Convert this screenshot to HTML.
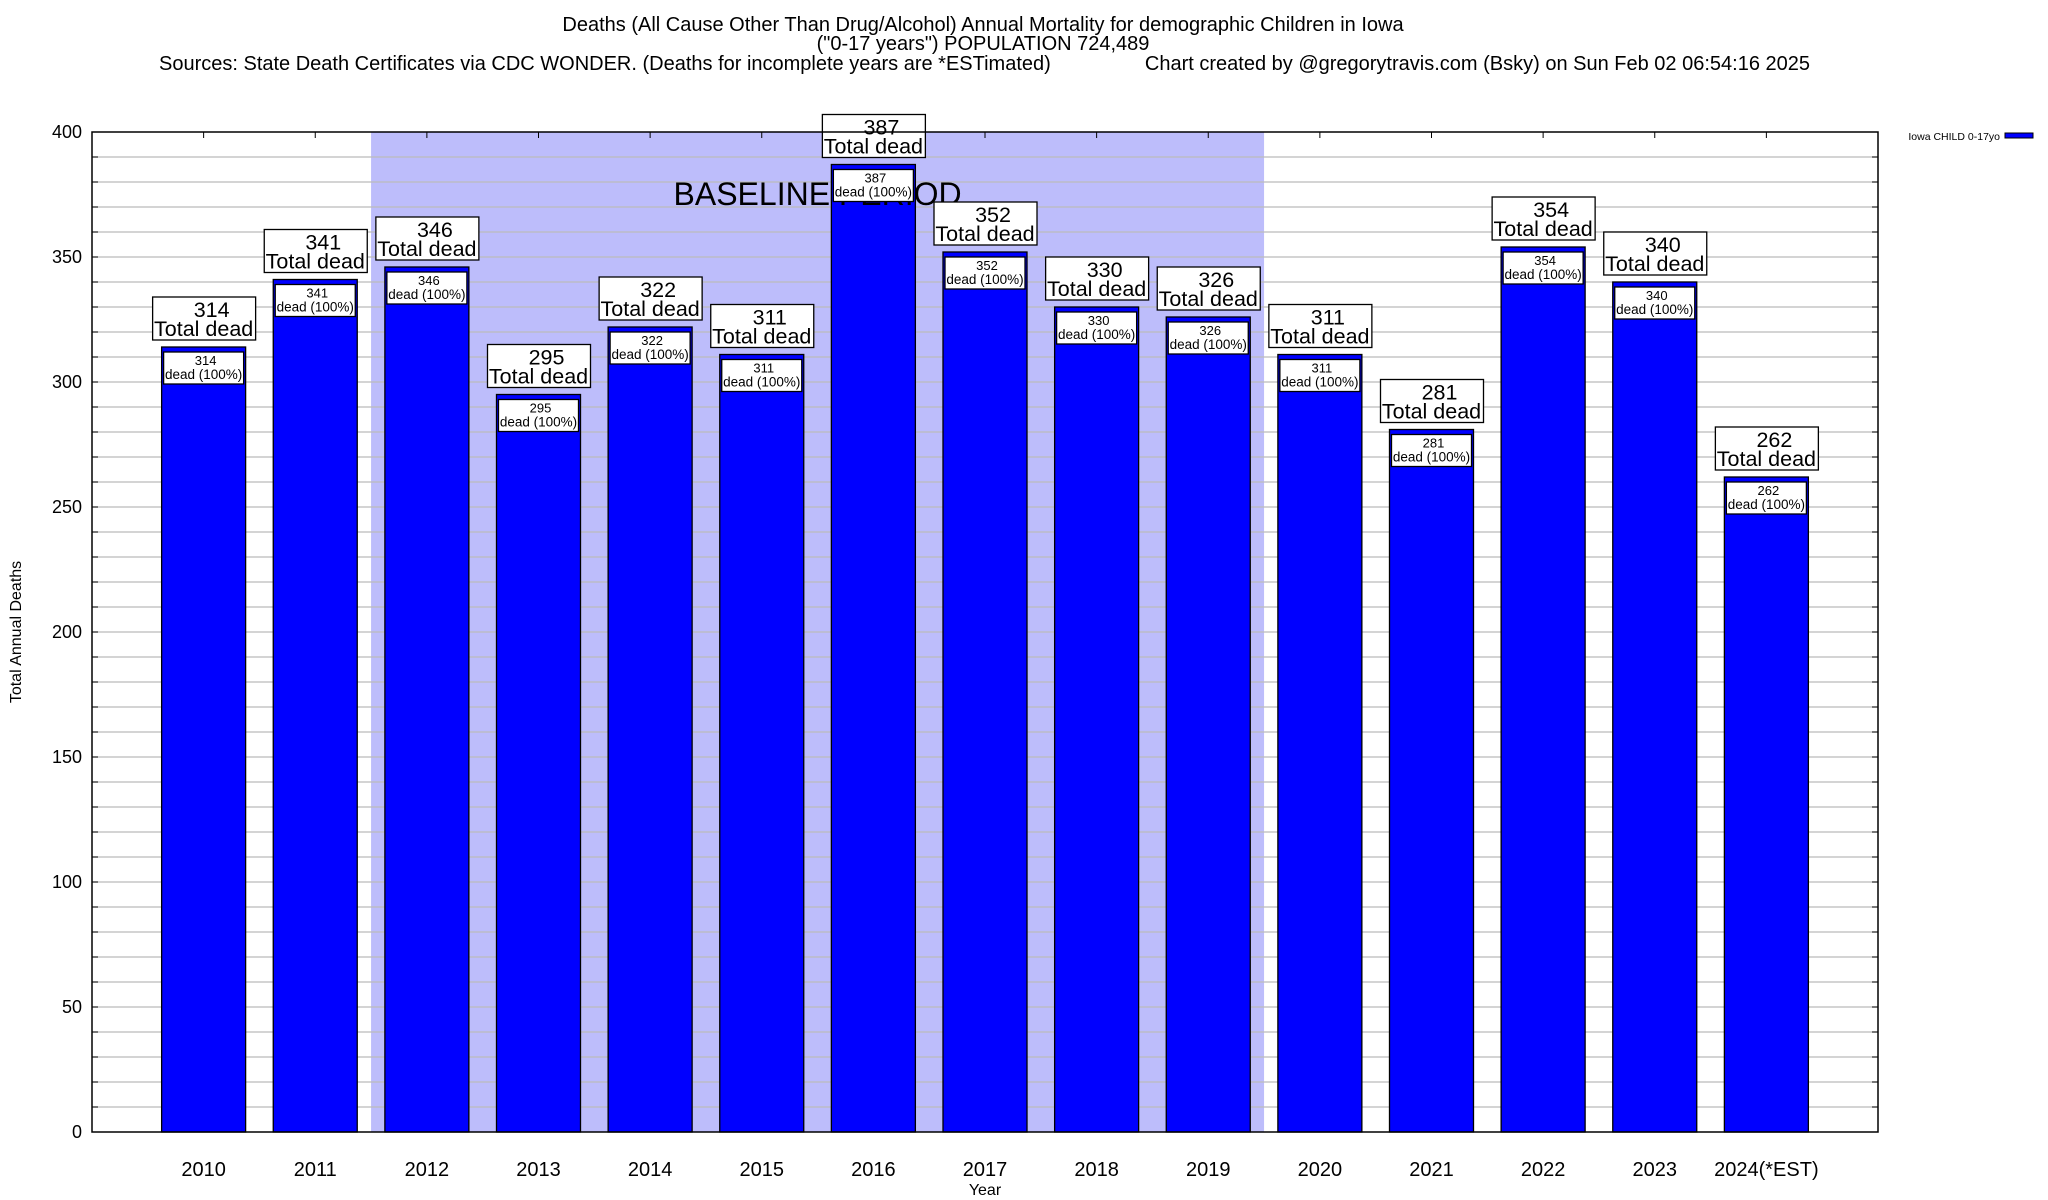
<!DOCTYPE html>
<html><head><meta charset="utf-8"><style>
html,body{margin:0;padding:0;background:#fff;}
svg{display:block;font-family:"Liberation Sans",Arial,sans-serif;}
</style></head><body>
<svg id="chart" width="2048" height="1200" viewBox="0 0 2048 1200">
<g>
<text x="983" y="31" font-size="20" text-anchor="middle">Deaths (All Cause Other Than Drug/Alcohol) Annual Mortality for demographic Children in Iowa</text>
<text x="983" y="50" font-size="20" text-anchor="middle">("0-17 years") POPULATION 724,489</text>
<text x="159" y="70" font-size="20">Sources: State Death Certificates via CDC WONDER. (Deaths for incomplete years are *ESTimated)</text>
<text x="1810" y="70" font-size="20" text-anchor="end">Chart created by @gregorytravis.com (Bsky) on Sun Feb 02 06:54:16 2025</text>
</g>
<g id="plot"></g>
</svg>
<script>
const categories = ["2010","2011","2012","2013","2014","2015","2016","2017","2018","2019","2020","2021","2022","2023","2024(*EST)"];
const deaths = [314,341,346,295,322,311,387,352,330,326,311,281,354,340,262];
const yTicks = [0,50,100,150,200,250,300,350,400];
const baselineStart = 2; // index of 2012
const baselineEnd = 9;   // index of 2019

const L=92,R=1878,T=132,B=1132,yMax=400;
const NS="http://www.w3.org/2000/svg";
const g=document.getElementById('plot');
function x(i){return L+(i+1)*(R-L)/(categories.length+1);}
function y(v){return B-(v/yMax)*(B-T);}
function mk(tag,attrs,parent){const e=document.createElementNS(NS,tag);for(const k in attrs)e.setAttribute(k,attrs[k]);(parent||g).appendChild(e);return e;}
const bw=84;

const sh=mk('rect',{x:x(baselineStart-0.5),y:T,width:x(baselineEnd+0.5)-x(baselineStart-0.5),height:B-T,fill:'#bdbdfb'});



for(let v=10;v<yMax;v+=10){
  const gl=mk('line',{x1:L,x2:R,y1:y(v),y2:y(v),stroke:'#bbbbbb','stroke-width':1.3});
  
  
  const t1=mk('line',{x1:L,x2:L+6,y1:y(v),y2:y(v),stroke:'#000'});
  
  
  const t2=mk('line',{x1:R-6,x2:R,y1:y(v),y2:y(v),stroke:'#000'});
  
  
}
yTicks.forEach(v=>{
  const t=mk('text',{x:L-10,y:y(v)+6,'font-size':18,'text-anchor':'end'});
  t.textContent=v;
  
  
});
categories.forEach((c,i)=>{
  const tk=mk('line',{x1:x(i),x2:x(i),y1:T,y2:T+6,stroke:'#000'});
  
  
  const b=mk('rect',{x:x(i)-bw/2,y:y(deaths[i]),width:bw,height:B-y(deaths[i]),fill:'#0000ff',stroke:'#000','stroke-width':1.3});
  
  
  const xl=mk('text',{x:x(i),y:1176,'font-size':20,'text-anchor':'middle'});
  xl.textContent=c;
  
  
});
const bt=mk('text',{x:(x(baselineStart-0.5)+x(baselineEnd+0.5))/2,y:205,'font-size':32,'text-anchor':'middle'});
bt.textContent='BASELINE PERIOD';


categories.forEach((c,i)=>{
  const top=y(deaths[i]);
  const sb=mk('rect',{x:x(i)-bw/2+2,y:top+5,width:bw-4,height:32,fill:'#fff',stroke:'#000','stroke-width':1.3});
  
  
  const s1=mk('text',{x:x(i)+2,y:top+18,'font-size':13,'text-anchor':'middle'});
  s1.textContent=deaths[i];
  
  
  const s2=mk('text',{x:x(i),y:top+32,'font-size':13.5,'text-anchor':'middle'});
  s2.textContent='dead (100%)';
  
  
  const bb=mk('rect',{x:x(i)-51,y:top-50,width:103,height:43,fill:'#fff',stroke:'#000','stroke-width':1.3});
  
  
  const b1=mk('text',{x:x(i)+8,y:top-30,'font-size':21.5,'text-anchor':'middle'});
  b1.textContent=deaths[i];
  
  
  const b2=mk('text',{x:x(i),y:top-11,'font-size':21.5,'text-anchor':'middle'});
  b2.textContent='Total dead';
  
  
});
const fr=mk('rect',{x:L,y:T,width:R-L,height:B-T,fill:'none',stroke:'#000','stroke-width':1.5});


const yt=mk('text',{x:0,y:0,'font-size':16,'text-anchor':'middle',transform:'translate(21,632) rotate(-90)'});
yt.textContent='Total Annual Deaths';


const xt=mk('text',{x:985,y:1195,'font-size':16,'text-anchor':'middle'});
xt.textContent='Year';


const lt=mk('text',{x:2000,y:140,'font-size':10.5,'text-anchor':'end'});
lt.textContent='Iowa CHILD 0-17yo';


const ls=mk('rect',{x:2005,y:133,width:28,height:5,fill:'#0000ff',stroke:'#000','stroke-width':1});


</script>
</body></html>
